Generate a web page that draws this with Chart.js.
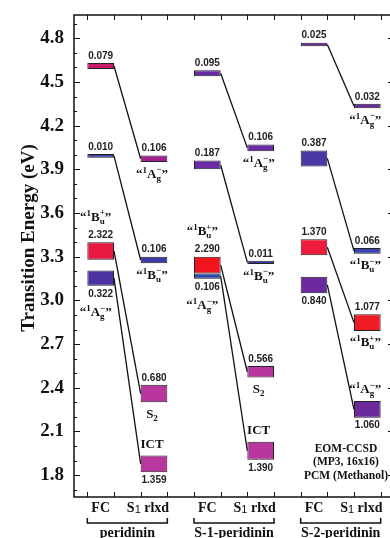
<!DOCTYPE html>
<html>
<head>
<meta charset="utf-8">
<script src="https://cdn.jsdelivr.net/npm/chart.js@4.4.0/dist/chart.umd.min.js"></script>
<style>
html, body { margin: 0; padding: 0; background: #fff; overflow: hidden; }
canvas { display: block; }
</style>
</head>
<body>
<canvas id="levels" width="396" height="538"></canvas>
<script>
// columns: Franck-Condon and relaxed S1 geometry for each molecule
const categories = ['FC', 'S1 rlxd', 'FC', 'S1 rlxd', 'FC', 'S1 rlxd'];
const groups = ['peridinin', 'S-1-peridinin', 'S-2-peridinin'];
const yTicks = [1.8, 2.1, 2.4, 2.7, 3.0, 3.3, 3.6, 3.9, 4.2, 4.5, 4.8];

// energy window [low, high] in eV, one entry per column
const levels0 = [[4.59, 4.63], [3.95, 3.995], [4.54, 4.58], [4.025, 4.07], [4.745, 4.77], [4.32, 4.35]];
const levels1 = [[3.98, 4.005], [3.255, 3.30], [3.90, 3.96], [3.25, 3.272], [3.92, 4.03], [3.32, 3.36]];
const levels2 = [[3.28, 3.40], [2.30, 2.42], [3.185, 3.30], [2.47, 2.55], [3.31, 3.42], [2.79, 2.905]];
const levels3 = [[3.10, 3.205], [1.82, 1.935], [3.148, 3.185], [1.905, 2.03], [3.05, 3.163], [2.195, 2.31]];

// oscillator strengths
const strength0 = ['0.079', '0.106', '0.095', '0.106', '0.025', '0.032'];
const strength1 = ['0.010', '0.106', '0.187', '0.011', '0.387', '0.066'];
const strength2 = ['2.322', '0.680', '2.290', '0.566', '1.370', '1.077'];
const strength3 = ['0.322', '1.359', '0.106', '1.390', '0.840', '1.060'];

// state assignments
const state0 = ['', '1Ag-', '', '1Ag-', '', '1Ag-'];
const state1 = ['', '1Bu-', '', '1Bu-', '', '1Bu-'];
const state2 = ['1Bu+', 'S2', '1Bu+', 'S2', '', '1Bu+'];
const state3 = ['1Ag-', 'ICT', '1Ag-', 'ICT', '', '1Ag-'];

const colors0 = ['#c91c66', '#a3218f', '#6b2ba5', '#6b2ba5', '#6b2ba5', '#6b2ba5'];
const colors1 = ['#3c3ca8', '#3c3ca8', '#6b2ba5', '#3c3ca8', '#4a38a5', '#3a44b0'];
const colors2 = ['#e81a44', '#b8369e', '#f2141e', '#b8369e', '#ee1c3c', '#f01c24'];
const colors3 = ['#4b33a3', '#b8369e', '#2f4aa8', '#b8369e', '#6a2a9c', '#6a2a9c'];

const levels = [levels0, levels1, levels2, levels3];
const strengths = [strength0, strength1, strength2, strength3];
const states = [state0, state1, state2, state3];
const colors = [colors0, colors1, colors2, colors3];

const SERIF = '"Liberation Serif", "Times New Roman", serif';

function drawState(ctx, name, cx, cy) {
  const big = 'bold 13px ' + SERIF;
  const small = 'bold 9px ' + SERIF;
  ctx.save();
  ctx.fillStyle = '#111';
  ctx.textBaseline = 'alphabetic';
  ctx.textAlign = 'left';
  const base = cy + 4.5;
  if (name === 'S2') {
    ctx.font = big; const wS = ctx.measureText('S').width;
    ctx.font = small; const w2 = ctx.measureText('2').width;
    const px = cx - (wS + w2) / 2;
    ctx.font = big; ctx.fillText('S', px, base);
    ctx.font = small; ctx.fillText('2', px + wS, base + 3);
  } else if (name === 'ICT') {
    ctx.font = big; ctx.textAlign = 'center';
    ctx.fillText('ICT', cx, base);
  } else {
    const letter = name[1], sub = name[2];
    const sign = name[3] === '-' ? '\u2212' : '+';
    ctx.font = big;
    const wq1 = ctx.measureText('\u201C').width;
    const wq2 = ctx.measureText('\u201D').width;
    const wL = ctx.measureText(letter).width;
    ctx.font = small;
    const w1 = ctx.measureText('1').width;
    const wss = Math.max(ctx.measureText(sub).width, ctx.measureText(sign).width);
    let px = cx - (wq1 + w1 + wL + wss + wq2) / 2;
    ctx.font = big; ctx.fillText('\u201C', px, base); px += wq1;
    ctx.font = small; ctx.fillText('1', px, base - 5); px += w1;
    ctx.font = big; ctx.fillText(letter, px, base); px += wL;
    ctx.font = small; ctx.fillText(sub, px, base + 3); ctx.fillText(sign, px, base - 5.5); px += wss;
    ctx.font = big; ctx.fillText('\u201D', px, base);
  }
  ctx.restore();
}

const levelPlugin = {
  id: 'levelDiagram',
  beforeDatasetsDraw(chart) {
    const { ctx, scales: { y } } = chart;
    ctx.save();
    ctx.strokeStyle = '#111';
    ctx.lineWidth = 1.3;
    for (let c = 0; c < categories.length; c += 2) {
      levels.forEach((lv, k) => {
        const a = chart.getDatasetMeta(k).data[c];
        const b = chart.getDatasetMeta(k).data[c + 1];
        const y1 = y.getPixelForValue((lv[c][0] + lv[c][1]) / 2);
        const y2 = y.getPixelForValue((lv[c + 1][0] + lv[c + 1][1]) / 2);
        ctx.beginPath();
        ctx.moveTo(a.x + a.width / 2, y1);
        ctx.lineTo(b.x - b.width / 2, y2);
        ctx.stroke();
      });
    }
    ctx.restore();
  },
  afterDraw(chart) {
    const { ctx, chartArea: { left, right, top, bottom }, scales: { x, y } } = chart;
    ctx.save();
    ctx.strokeStyle = '#111';
    ctx.lineWidth = 1.5;
    ctx.strokeRect(left, top, right - left, bottom - top);

    // y ticks, inward on both sides
    ctx.lineWidth = 1;
    for (let i = 17; i <= 49; i++) {
      const v = i / 10;
      const major = yTicks.some(t => Math.abs(t - v) < 1e-6);
      const len = major ? 6 : 3;
      const py = Math.round(y.getPixelForValue(v)) + 0.5;
      ctx.beginPath();
      ctx.moveTo(left, py); ctx.lineTo(left + len, py);
      ctx.moveTo(right, py); ctx.lineTo(right - len, py);
      ctx.stroke();
    }
    // x ticks at the edges of each level column
    const half = (x.getPixelForValue(1) - x.getPixelForValue(0)) / 4;
    categories.forEach((_, c) => {
      [-half, half].forEach(d => {
        const px = Math.round(x.getPixelForValue(c) + d) + 0.5;
        ctx.beginPath();
        ctx.moveTo(px, top); ctx.lineTo(px, top + 5);
        ctx.moveTo(px, bottom); ctx.lineTo(px, bottom - 5);
        ctx.stroke();
      });
    });

    // y title
    ctx.save();
    ctx.translate(29, 238);
    ctx.rotate(-Math.PI / 2);
    ctx.font = 'bold 19px ' + SERIF;
    ctx.fillStyle = '#111';
    ctx.textAlign = 'center';
    ctx.textBaseline = 'middle';
    ctx.fillText('Transition Energy (eV)', 0, 0);
    ctx.restore();

    // strengths and state names
    levels.forEach((lv, k) => lv.forEach((r, c) => {
      const el = chart.getDatasetMeta(k).data[c];
      const yTop = y.getPixelForValue(r[1]);
      const yBot = y.getPixelForValue(r[0]);
      const below = k === 3;
      ctx.font = 'bold 10px "Liberation Sans", Arial, sans-serif';
      ctx.fillStyle = '#222';
      ctx.textAlign = 'center';
      ctx.textBaseline = 'middle';
      ctx.fillText(strengths[k][c], el.x, below ? yBot + 8 : yTop - 7);
      const name = states[k][c];
      if (!name) return;
      const fc = c % 2 === 0;
      let sy;
      if (fc) sy = below ? yBot + 26 : yTop - 26;
      else sy = below ? yTop - 12 : yBot + 11;
      drawState(ctx, name, el.x + (fc ? -5 : -2), sy);
    }));

    // method note
    ctx.font = 'bold 11.5px ' + SERIF;
    ctx.fillStyle = '#111';
    ctx.textAlign = 'center';
    ctx.textBaseline = 'middle';
    const nx = x.getPixelForValue(4.6);
    const ny = y.getPixelForValue(1.98);
    ['EOM-CCSD', '(MP3, 16x16)', 'PCM (Methanol)'].forEach((t, i) => ctx.fillText(t, nx, ny + i * 13.5));

    // column labels
    const ly = bottom + 11;
    categories.forEach((lab, c) => {
      const cx = x.getPixelForValue(c);
      ctx.textBaseline = 'middle';
      if (lab === 'FC') {
        ctx.font = 'bold 14px ' + SERIF;
        ctx.textAlign = 'center';
        ctx.fillText('FC', cx, ly);
      } else {
        ctx.textAlign = 'left';
        ctx.font = 'bold 14px ' + SERIF;
        const wS = ctx.measureText('S').width;
        const wR = ctx.measureText(' rlxd').width;
        ctx.font = '11px "Liberation Sans", Arial, sans-serif';
        const w1 = ctx.measureText('1').width;
        let px = cx - 6 - (wS + w1 + wR) / 2;
        ctx.font = 'bold 14px ' + SERIF;
        ctx.fillText('S', px, ly); px += wS;
        ctx.font = '11px "Liberation Sans", Arial, sans-serif';
        ctx.fillText('1', px, ly + 2); px += w1;
        ctx.font = 'bold 14px ' + SERIF;
        ctx.fillText(' rlxd', px, ly);
      }
    });

    // group brackets
    ctx.lineWidth = 1.5;
    groups.forEach((g, i) => {
      const x1 = x.getPixelForValue(2 * i) - half;
      const x2 = x.getPixelForValue(2 * i + 1) + half;
      ctx.beginPath();
      ctx.moveTo(x1, bottom + 21); ctx.lineTo(x1, bottom + 26);
      ctx.lineTo(x2, bottom + 26); ctx.lineTo(x2, bottom + 21);
      ctx.stroke();
      ctx.font = 'bold 14px ' + SERIF;
      ctx.textAlign = 'center';
      ctx.textBaseline = 'middle';
      ctx.fillText(g, (x1 + x2) / 2, bottom + 36);
    });
    ctx.restore();
  }
};

new Chart(document.getElementById('levels'), {
  type: 'bar',
  data: {
    labels: categories,
    datasets: levels.map((lv, k) => ({
      data: lv,
      backgroundColor: colors[k],
      borderColor: '#222',
      borderWidth: 1,
      borderSkipped: false,
      grouped: false,
      barPercentage: 0.5,
      categoryPercentage: 1
    }))
  },
  options: {
    responsive: false,
    animation: false,
    layout: { padding: { top: 15, right: 2, left: 0, bottom: 0 } },
    plugins: { legend: { display: false }, tooltip: { enabled: false } },
    scales: {
      x: {
        grid: { display: false },
        border: { display: false },
        ticks: { display: false },
        afterFit: s => { s.height = 41; }
      },
      y: {
        min: 1.65,
        max: 4.96,
        afterBuildTicks: s => { s.ticks = yTicks.map(v => ({ value: v })); },
        ticks: {
          color: '#111',
          padding: 2,
          font: { family: SERIF, size: 19, weight: 'bold' },
          callback: v => v.toFixed(1)
        },
        grid: { display: false },
        border: { display: false },
        afterFit: s => { s.width = 74; }
      }
    }
  },
  plugins: [levelPlugin]
});
</script>
</body>
</html>
